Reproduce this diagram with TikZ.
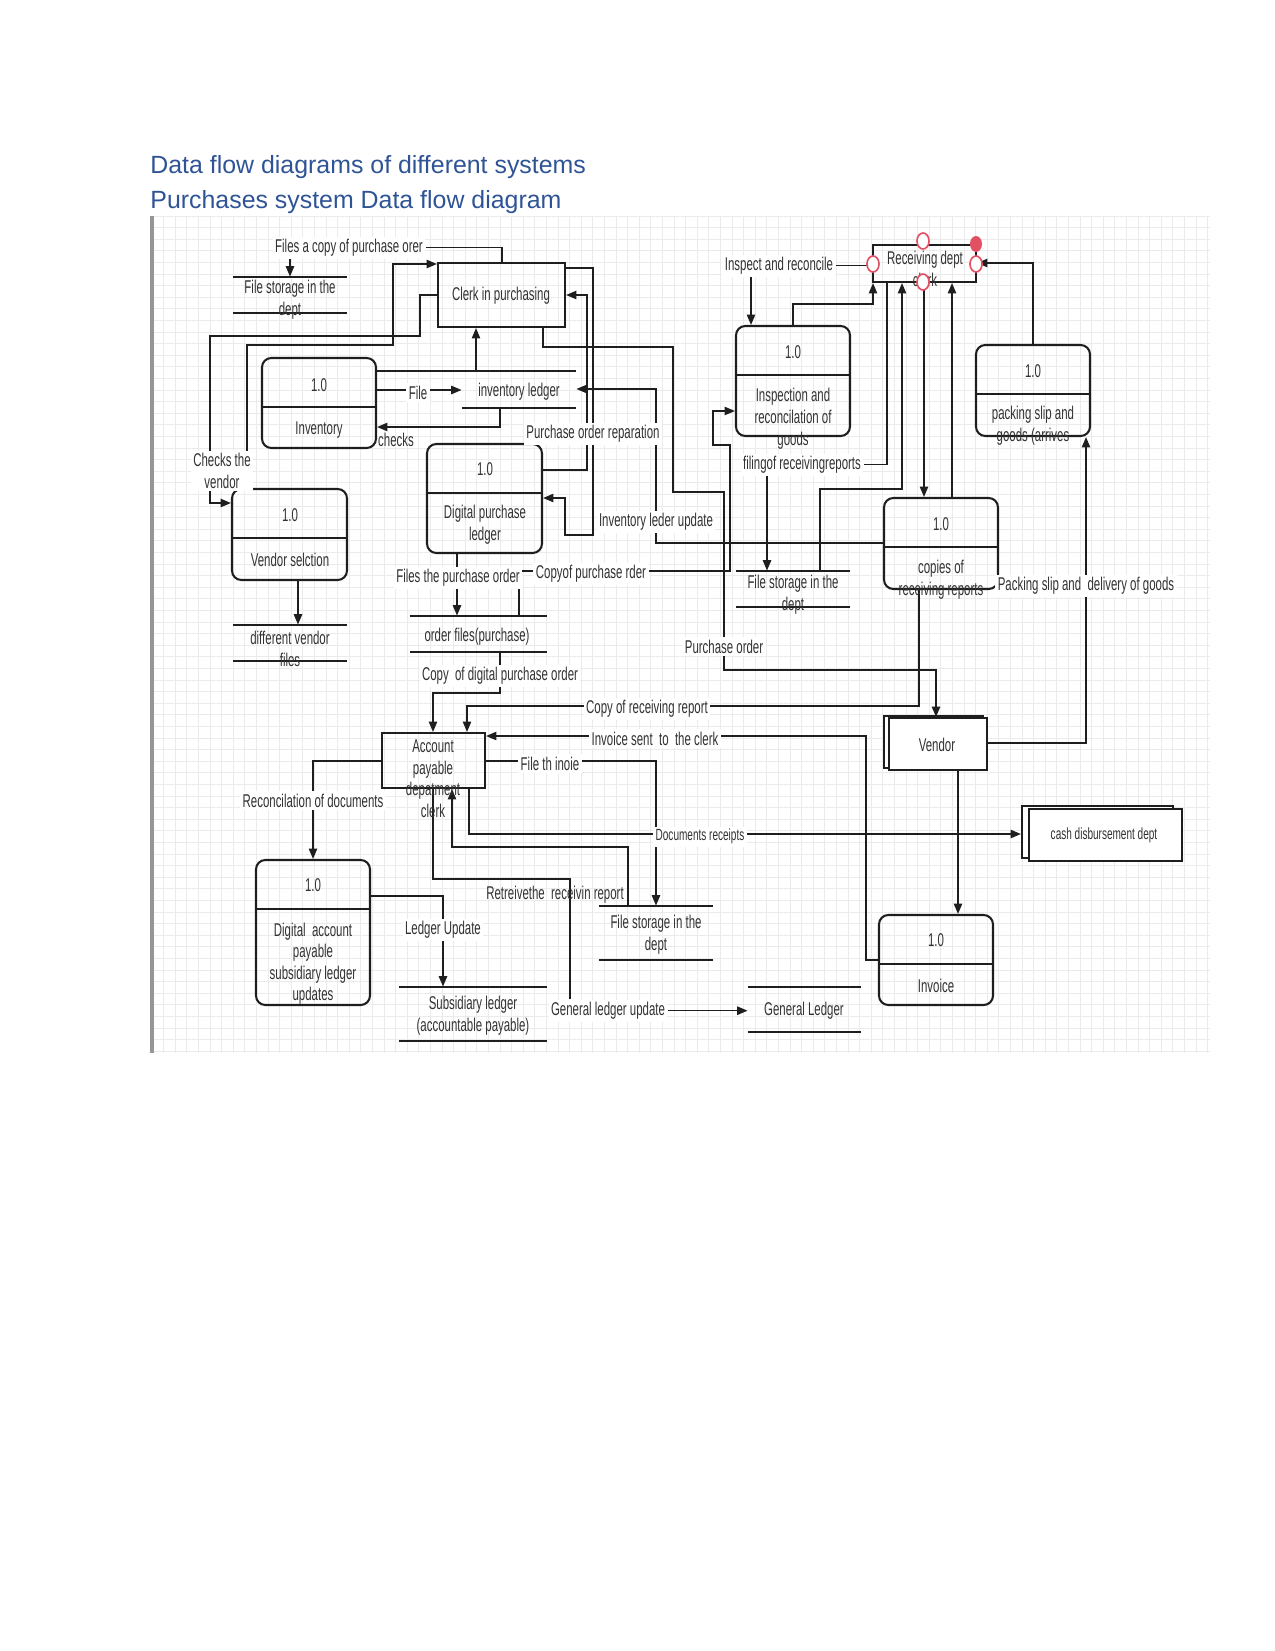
\documentclass[tikz,border=0pt]{standalone}
\usepackage{fontspec}
\setmainfont{Liberation Sans}
\newfontfamily\dfdfont{Liberation Sans}[FakeStretch=0.62]
\usetikzlibrary{arrows.meta, fit}
\definecolor{headblue}{RGB}{47, 84, 150}
\definecolor{inkdark}{RGB}{30, 30, 30}
\definecolor{textgray}{RGB}{50, 50, 50}
\definecolor{gridgray}{RGB}{235, 235, 235}
\definecolor{edgegray}{RGB}{150, 150, 150}
\definecolor{handlered}{RGB}{226, 80, 100}
\pgfdeclarelayer{gridlayer}
\pgfdeclarelayer{toplayer}
\pgfsetlayers{gridlayer,main,toplayer}
\tikzset{
    heading/.style={text=headblue, font=\fontsize{12}{14}\selectfont, inner sep=0pt},
    gridline/.style={draw=gridgray, line width=0.4pt},
    procbox/.style={draw=inkdark, line width=1pt, rounded corners=4.5pt, inner sep=0pt},
    plainbox/.style={draw=inkdark, line width=1pt, inner sep=0pt},
    entbox/.style={draw=inkdark, line width=1pt, fill=white, inner sep=0pt},
    storeline/.style={draw=inkdark, line width=0.9pt},
    wire/.style={draw=inkdark, line width=0.75pt},
    flow/.style={wire, -{Triangle[length=5pt, width=4pt]}},
    txt/.style={text=textgray, font=\dfdfont\fontsize{8.9}{10.4}\selectfont, align=center, inner sep=0pt, yshift=-1.3pt},
    txtsmall/.style={txt, font=\dfdfont\fontsize{7.8}{9.4}\selectfont},
    lbl/.style={txt, fill=white, inner sep=1.2pt},
    handle/.style={draw=handlered, fill=white, line width=0.8pt},
}
% process box: name, x1, y1, x2, y2, y of the divider
\newcommand{\dfdproc}[6]{%
    \node[procbox, fit={(#2,#3) (#4,#5)}] (#1) {};
    \draw[storeline] (#2,#6) -- (#4,#6);
}
% data store: name, x1, x2, top, bottom
\newcommand{\dfdstore}[5]{%
    \node[inner sep=0pt, fit={(#2,#4) (#3,#5)}] (#1) {};
    \draw[storeline] (#1.north west) -- (#1.north east);
    \draw[storeline] (#1.south west) -- (#1.south east);
}

\begin{document}
\begin{tikzpicture}[x=0.01693cm, y=-0.01693cm]
    \useasboundingbox (0,0) rectangle (1275,1651);

    % ----------------------------------------------------
    % Headings
    % ----------------------------------------------------
    \node[heading, anchor=base west] (head1) at (150,173) {Data flow diagrams of different systems};
    \node[heading, anchor=base west] (head2) at (150,208) {Purchases system Data flow diagram};

    % ----------------------------------------------------
    % Grid sheet
    % ----------------------------------------------------
    \begin{pgfonlayer}{gridlayer}
        \foreach \gx in {152,163.6,...,1210}
            \draw[gridline] (\gx,216) -- (\gx,1053);
        \foreach \gy in {216,227.6,...,1053}
            \draw[gridline] (152,\gy) -- (1210,\gy);
        \draw[edgegray, line width=1.5pt] (152,216) -- (152,1053);
    \end{pgfonlayer}

    % ----------------------------------------------------
    % Processes, entities and stores
    % ----------------------------------------------------
    \dfdproc{inv}{262}{358}{376}{448}{407}
    \dfdproc{vsel}{232}{489}{347}{580}{538}
    \dfdproc{dpl}{427}{444}{542}{553}{493}
    \dfdproc{insp}{736}{326}{850}{436}{375}
    \dfdproc{pack}{976}{345}{1090}{436}{394}
    \dfdproc{copies}{884}{498}{998}{589}{547}
    \dfdproc{dap}{256}{860}{370}{1005}{909}
    \dfdproc{invc}{879}{915}{993}{1005}{964}

    \node[plainbox, fit={(438,263) (565,327)}] (clerk) {};
    \node[plainbox, fit={(873,245) (976,282)}] (rclerk) {};
    \node[plainbox, fit={(382,733) (485,788)}] (ap) {};

    \node[entbox, fit={(884,716) (983,768)}] (vendb) {};
    \node[entbox, fit={(889,718) (987,770)}] (vend) {};
    \node[entbox, fit={(1022,806) (1173,858)}] (cashb) {};
    \node[entbox, fit={(1029,809) (1182,861)}] (cash) {};

    \dfdstore{fs1}{233}{347}{277}{313}
    \dfdstore{invl}{462}{576}{371}{408}
    \dfdstore{dvf}{233}{347}{625}{661}
    \dfdstore{ofs}{410}{547}{616}{652}
    \dfdstore{fs2}{736}{850}{571}{607}
    \dfdstore{subl}{399}{547}{987}{1041}
    \dfdstore{fs3}{599}{713}{906}{960}
    \dfdstore{gl}{748}{861}{987}{1032}
    \draw[storeline] (inv.east |- invl.north) -- (invl.north west);

    % ----------------------------------------------------
    % Texts, labels and selection handles
    % ----------------------------------------------------
    \begin{pgfonlayer}{toplayer}
        \node[txt] (clerk-t) at (501,293) {Clerk in purchasing};
        \node[txt] (rclerk-t) at (925,266) {Receiving dept\\clerk};
        \node[txt] (ap-t) at (433,776) {Account\\payable\\depatment\\clerk};
        \node[txt] (vend-t) at (937,742) {Vendor};
        \node[txtsmall] (cash-t) at (1104,833) {cash disbursement dept};

        \node[txt] (inv-n) at (319,382) {1.0};
        \node[txt] (inv-t) at (319,427) {Inventory};
        \node[txt] (vsel-n) at (290,512) {1.0};
        \node[txt] (vsel-t) at (290,557) {Vendor selction};
        \node[txt] (dpl-n) at (485,466) {1.0};
        \node[txt] (dpl-t) at (485,522) {Digital purchase\\ledger};
        \node[txt] (insp-n) at (793,349) {1.0};
        \node[txt] (insp-t) at (793,416) {Inspection and\\reconcilation of\\goods};
        \node[txt] (pack-n) at (1033,368) {1.0};
        \node[txt] (pack-t) at (1033,423) {packing slip and\\goods (arrives};
        \node[txt] (copies-n) at (941,521) {1.0};
        \node[txt] (copies-t) at (941,577) {copies of\\receiving reports};
        \node[txt] (dap-n) at (313,882) {1.0};
        \node[txt] (dap-t) at (313,961) {Digital~ account\\payable\\subsidiary ledger\\updates};
        \node[txt] (invc-n) at (936,937) {1.0};
        \node[txt] (invc-t) at (936,983) {Invoice};

        \node[txt] (fs1-t) at (290,297) {File storage in the\\dept};
        \node[txt] (invl-t) at (519,389) {inventory ledger};
        \node[txt] (dvf-t) at (290,646) {different vendor\\files};
        \node[txt] (ofs-t) at (477,634) {order files(purchase)};
        \node[txt] (fs2-t) at (793,592) {File storage in the\\dept};
        \node[txt] (subl-t) at (473,1013) {Subsidiary ledger\\(accountable payable)};
        \node[txt] (fs3-t) at (656,932) {File storage in the\\dept};
        \node[txt] (gl-t) at (804,1008) {General Ledger};

        \node[lbl] (lfiles) at (349,245) {Files a copy of purchase orer};
        \node[lbl] (lfile) at (418,390) {File};
        \node[txt] (lchecks) at (396,437) {checks};
        \node[lbl] (lchkv) at (222,468) {Checks the\\vendor};
        \node[lbl] (lpor) at (593,431) {Purchase order reparation};
        \node[lbl] (lilu) at (656,519) {Inventory leder update};
        \node[lbl] (lfpo) at (458,575) {Files the purchase order};
        \node[lbl] (lcpo) at (591,571) {Copyof purchase rder};
        \node[lbl] (lpo) at (724,644) {Purchase order};
        \node[lbl] (linsp) at (779,263) {Inspect and reconcile};
        \node[lbl] (lfiling) at (802,462) {filingof receivingreports};
        \node[lbl] (lpack) at (1086,583) {Packing slip and~ delivery of goods};
        \node[lbl] (lcdpo) at (500,673) {Copy~ of digital purchase order};
        \node[lbl] (lcrr) at (647,706) {Copy of receiving report};
        \node[lbl] (linvs) at (655,736) {Invoice sent~ to~ the clerk};
        \node[lbl] (lfti) at (550,761) {File th inoie};
        \node[lbl] (lrec) at (313,798) {Reconcilation of documents};
        \node[lbl, font=\dfdfont\fontsize{7.8}{9.4}\selectfont] (ldoc) at (700,834) {Documents receipts};
        \node[txt] (lret) at (555,892) {Retreivethe~ receivin report};
        \node[lbl] (llu) at (443,927) {Ledger Update};
        \node[lbl] (lglu) at (608,1008) {General ledger update};

        \draw[handle] (923,241) ellipse [x radius=6, y radius=8];
        \draw[handle] (873,264) ellipse [x radius=6, y radius=8];
        \draw[handle] (976,264) ellipse [x radius=6, y radius=8];
        \draw[handle] (923,282) ellipse [x radius=6, y radius=8];
        \fill[handlered] (976,244) ellipse [x radius=6, y radius=8];
    \end{pgfonlayer}

    % ----------------------------------------------------
    % Purchasing side flows
    % ----------------------------------------------------
    \draw[wire] (clerk.north -| 502,0) |- (lfiles.east);
    \draw[flow] (lfiles.south -| 290,0) -- (fs1.north -| 290,0);
    \draw[flow] (vsel.north -| 247,0) |- (393,345) |- (clerk.west |- 0,264);
    \draw[flow] (clerk.west |- 0,295) -| (420,336) -| (210,503) -- (vsel.west |- 0,503);
    \draw[flow] (inv.east |- 0,390) -- (invl.west |- 0,390);
    \draw[flow] (invl.south -| 500,0) |- (inv.east |- 0,427);
    \draw[flow] (invl.north -| 476,0) -- (clerk.south -| 476,0);
    \draw[flow] (copies.west |- 0,543) -| (656,389) -- (invl.east |- 0,389);
    \draw[flow] (dpl.east |- 0,470) -| (587,295) -- (clerk.east |- 0,295);
    \draw[flow] (clerk.east |- 0,268) -| (593,535) -| (565,498) -- (dpl.east |- 0,498);
    \draw[flow] (dpl.south -| 457,0) -- (ofs.north -| 457,0);
    \draw[flow] (vsel.south -| 298,0) -- (dvf.north -| 298,0);
    \draw[flow] (ofs.north -| 519,0) |- (730,571) |- (713,445) |- (insp.west |- 0,411);
    \draw[flow] (clerk.south -| 543,0) |- (673,347) |- (724,492) |- (936,670) -- (vend.north -| 936,0);

    % ----------------------------------------------------
    % Receiving side flows
    % ----------------------------------------------------
    \draw[wire] (linsp.east) -- (rclerk.west |- linsp.east);
    \draw[flow] (linsp.south -| 751,0) -- (insp.north -| 751,0);
    \draw[flow] (insp.north -| 793,0) |- (873,304) -- (rclerk.south -| 873,0);
    \draw[wire] (lfiling.east) -| (rclerk.south -| 887,0);
    \draw[flow] (lfiling.south -| 767,0) -- (fs2.north -| 767,0);
    \draw[flow] (fs2.north -| 820,0) |- (902,489) -- (rclerk.south -| 902,0);
    \draw[flow] (rclerk.south -| 924,0) -- (copies.north -| 924,0);
    \draw[flow] (copies.north -| 952,0) -- (rclerk.south -| 952,0);
    \draw[flow] (pack.north -| 1033,0) |- (rclerk.east |- 0,263);
    \draw[flow] (vend.east |- 0,743) -| (pack.south -| 1086,0);
    \draw[flow] (vend.south -| 958,0) -- (invc.north -| 958,0);

    % ----------------------------------------------------
    % Accounts payable flows
    % ----------------------------------------------------
    \draw[flow] (ofs.south -| 500,0) |- (433,693) -- (ap.north -| 433,0);
    \draw[flow] (copies.south -| 919,0) |- (467,706) -- (ap.north -| 467,0);
    \draw[flow] (invc.west |- 0,960) -| (866,736) -- (ap.east |- 0,736);
    \draw[flow] (ap.east |- 0,761) -| (fs3.north -| 656,0);
    \draw[flow] (ap.south -| 469,0) |- (cashb.west |- 0,834);
    \draw[flow] (fs3.north -| 628,0) |- (452,847) -- (ap.south -| 452,0);
    \draw[wire] (ap.south -| 433,0) |- (570,879) -- (lglu.north -| 570,0);
    \draw[flow] (lglu.east) -- (gl.west |- lglu.east);
    \draw[flow] (ap.west |- 0,761) -| (dap.north -| 313,0);
    \draw[flow] (dap.east |- 0,896) -| (subl.north -| 443,0);

\end{tikzpicture}
\end{document}
